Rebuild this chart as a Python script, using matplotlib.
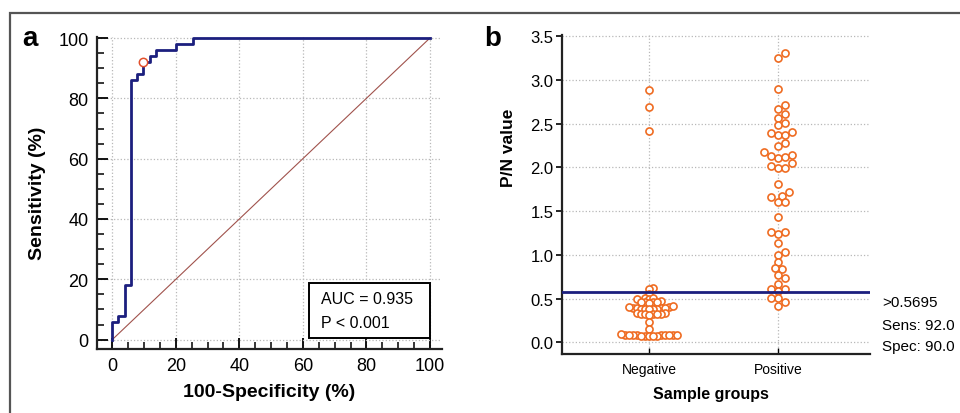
import matplotlib
matplotlib.use("Agg")
import matplotlib.pyplot as plt
import numpy as np
from matplotlib.patches import Rectangle
from matplotlib.ticker import MultipleLocator, FormatStrFormatter

plt.rcParams["font.family"] = ["Liberation Sans", "DejaVu Sans"]

# ---- panel a: ROC curve (step vertices, 100-specificity vs sensitivity) ----
roc_fpr = [0, 0, 1.8, 3.9, 5.8, 7.8, 9.8, 11.9, 13.9, 20, 25.3, 100]
roc_tpr = [0, 6, 8, 18, 86, 88, 92, 94, 96, 98, 100, 100]
cut_fpr, cut_tpr = 9.8, 92
auc_lines = ["AUC = 0.935", "P < 0.001"]

# ---- panel b: P/N values per sample group ----
groups = ["Negative", "Positive"]
neg_vals = [2.89, 2.69, 2.42, 0.62, 0.605, 0.555,
            0.51, 0.50, 0.505, 0.50,
            0.47, 0.46, 0.465, 0.455, 0.46, 0.45,
            0.40, 0.395, 0.39, 0.39, 0.385, 0.385, 0.38, 0.38, 0.375, 0.39, 0.40, 0.41,
            0.33, 0.325, 0.32, 0.32, 0.315, 0.33, 0.325, 0.32,
            0.23, 0.155,
            0.085, 0.08, 0.08, 0.08, 0.075, 0.075, 0.08, 0.085, 0.08, 0.075, 0.08,
            0.085, 0.09, 0.07, 0.07]
pos_vals = [3.31, 3.25, 2.90, 2.67, 2.71, 2.57, 2.61, 2.48, 2.51,
            2.37, 2.37, 2.39, 2.40, 2.28, 2.24, 2.18, 2.11, 2.12, 2.13, 2.14,
            2.05, 1.99, 1.99, 2.02, 1.81, 1.72, 1.66, 1.67, 1.60, 1.60, 1.43,
            1.24, 1.26, 1.26, 1.14, 1.03, 1.00, 0.92, 0.84, 0.85, 0.77, 0.73,
            0.67, 0.59, 0.61, 0.61, 0.51, 0.46, 0.51, 0.41]
cutoff = 0.5695
cut_info = [">0.5695", "Sens: 92.0", "Spec: 90.0"]

NAVY = "#1c1f7e"
ORANGE = "#ef6c22"
GRID = dict(color="#b8b8b8", ls=":", lw=0.9)
W, H = 960, 414


def px_rect(l, t, r, b):
    return [l / W, 1 - b / H, (r - l) / W, (b - t) / H]


def swarm_offsets(vals, ax, step_px, min_px):
    """Simple beeswarm: x offsets (data units) so circles don't pile up."""
    vals = np.asarray(vals, dtype=float)
    p0 = ax.transData.transform((0, 0))
    p1 = ax.transData.transform((1, 1))
    sx, sy = p1[0] - p0[0], p1[1] - p0[1]
    placed = []
    offs = np.zeros(len(vals))
    for i in np.argsort(vals, kind="stable"):
        y = vals[i] * sy
        k = 0
        while True:
            m = (k + 1) // 2 * (1 if k % 2 == 1 else -1)
            x = m * step_px
            if all((x - px) ** 2 + (y - py) ** 2 >= min_px ** 2 for px, py in placed):
                break
            k += 1
        placed.append((x, y))
        offs[i] = x / sx
    return offs


fig = plt.figure(figsize=(W / 100, H / 100), dpi=100)
fig.patches.append(Rectangle((10 / W, -0.1), 1.0, 1.1 - 14 / H, transform=fig.transFigure,
                             fill=False, ec="#555555", lw=1.6))

# ---------------- panel a ----------------
ax1 = fig.add_axes(px_rect(97, 37.5, 441.7, 350))
ax1.set_xlim(-4.8, 103.7)
ax1.set_ylim(-3.1, 100.5)
ax1.plot([0, 100], [0, 100], color="#a0524c", lw=0.8, zorder=2)
ax1.plot(roc_fpr, roc_tpr, drawstyle="steps-post", color=NAVY, lw=2.0, zorder=3)
ax1.plot([cut_fpr], [cut_tpr], "o", ms=6, mfc="white", mec="#e2502c", mew=1.1, zorder=4)
ax1.xaxis.set_major_locator(MultipleLocator(20))
ax1.xaxis.set_minor_locator(MultipleLocator(5))
ax1.yaxis.set_major_locator(MultipleLocator(20))
ax1.yaxis.set_minor_locator(MultipleLocator(5))
ax1.grid(True, which="major", **GRID)
ax1.set_axisbelow(True)
for s in ("top", "right"):
    ax1.spines[s].set_visible(False)
for s in ("left", "bottom"):
    ax1.spines[s].set_linewidth(1.6)
    ax1.spines[s].set_color("#222222")
ax1.tick_params(which="major", direction="in", length=8, width=1.3, labelsize=13, pad=6)
ax1.tick_params(which="minor", direction="in", length=5, width=1.1)
ax1.set_xlabel("100-Specificity (%)", fontsize=14, fontweight="bold", va="center")
ax1.xaxis.set_label_coords(0.5, -0.135)
ax1.set_ylabel("Sensitivity (%)", fontsize=14, fontweight="bold", va="center")
ax1.yaxis.set_label_coords(-0.174, 0.5)
ax1.add_patch(Rectangle((0.615, 0.035), 0.351, 0.176, transform=ax1.transAxes,
                        fill=True, fc="white", ec="black", lw=1.4, zorder=5))
ax1.text(0.65, 0.16, auc_lines[0], transform=ax1.transAxes, fontsize=11.5, va="center", zorder=6)
ax1.text(0.65, 0.086, auc_lines[1], transform=ax1.transAxes, fontsize=11.5, va="center", zorder=6)

# ---------------- panel b ----------------
ax2 = fig.add_axes(px_rect(562, 35.6, 870, 355))
ax2.set_xlim(-0.674, 1.713)
ax2.set_ylim(-0.135, 3.52)
ax2.set_xticks([0, 1])
ax2.set_xticklabels(groups)
ax2.yaxis.set_major_locator(MultipleLocator(0.5))
ax2.yaxis.set_major_formatter(FormatStrFormatter("%.1f"))
ax2.grid(True, **GRID)
ax2.set_axisbelow(True)
for s in ("top", "right"):
    ax2.spines[s].set_visible(False)
for s in ("left", "bottom"):
    ax2.spines[s].set_linewidth(1.6)
    ax2.spines[s].set_color("#222222")
ax2.tick_params(axis="y", direction="out", length=4, width=1.2, labelsize=12, pad=2)
ax2.tick_params(axis="x", direction="in", length=4, width=1.0, labelsize=10, pad=6)

for gi, vals in enumerate([neg_vals, pos_vals]):
    if gi == 0:
        offs = swarm_offsets(vals, ax2, 4.0, 4.0)
    else:
        offs = swarm_offsets(vals, ax2, 3.5, 6.8)
    ax2.scatter(gi + offs, vals, s=26, facecolors="white", edgecolors=ORANGE,
                linewidths=1.2, zorder=3)
ax2.axhline(cutoff, color=NAVY, lw=2.0, zorder=4)

ax2.set_xlabel("Sample groups", fontsize=11.5, fontweight="bold", va="center")
ax2.xaxis.set_label_coords(0.485, -0.125)
ax2.set_ylabel("P/N value", fontsize=12.5, fontweight="bold", va="center")
ax2.yaxis.set_label_coords(-0.175, 0.648)

for txt, ypx in zip(cut_info, [302.7, 325.5, 347.5]):
    fig.text(882 / W, 1 - ypx / H, txt, fontsize=11, va="center", ha="left")

fig.text(22 / W, 1 - 46 / H, "a", fontsize=20, fontweight="bold", va="baseline")
fig.text(484 / W, 1 - 46 / H, "b", fontsize=20, fontweight="bold", va="baseline")

fig.savefig("out.png", dpi=100)
